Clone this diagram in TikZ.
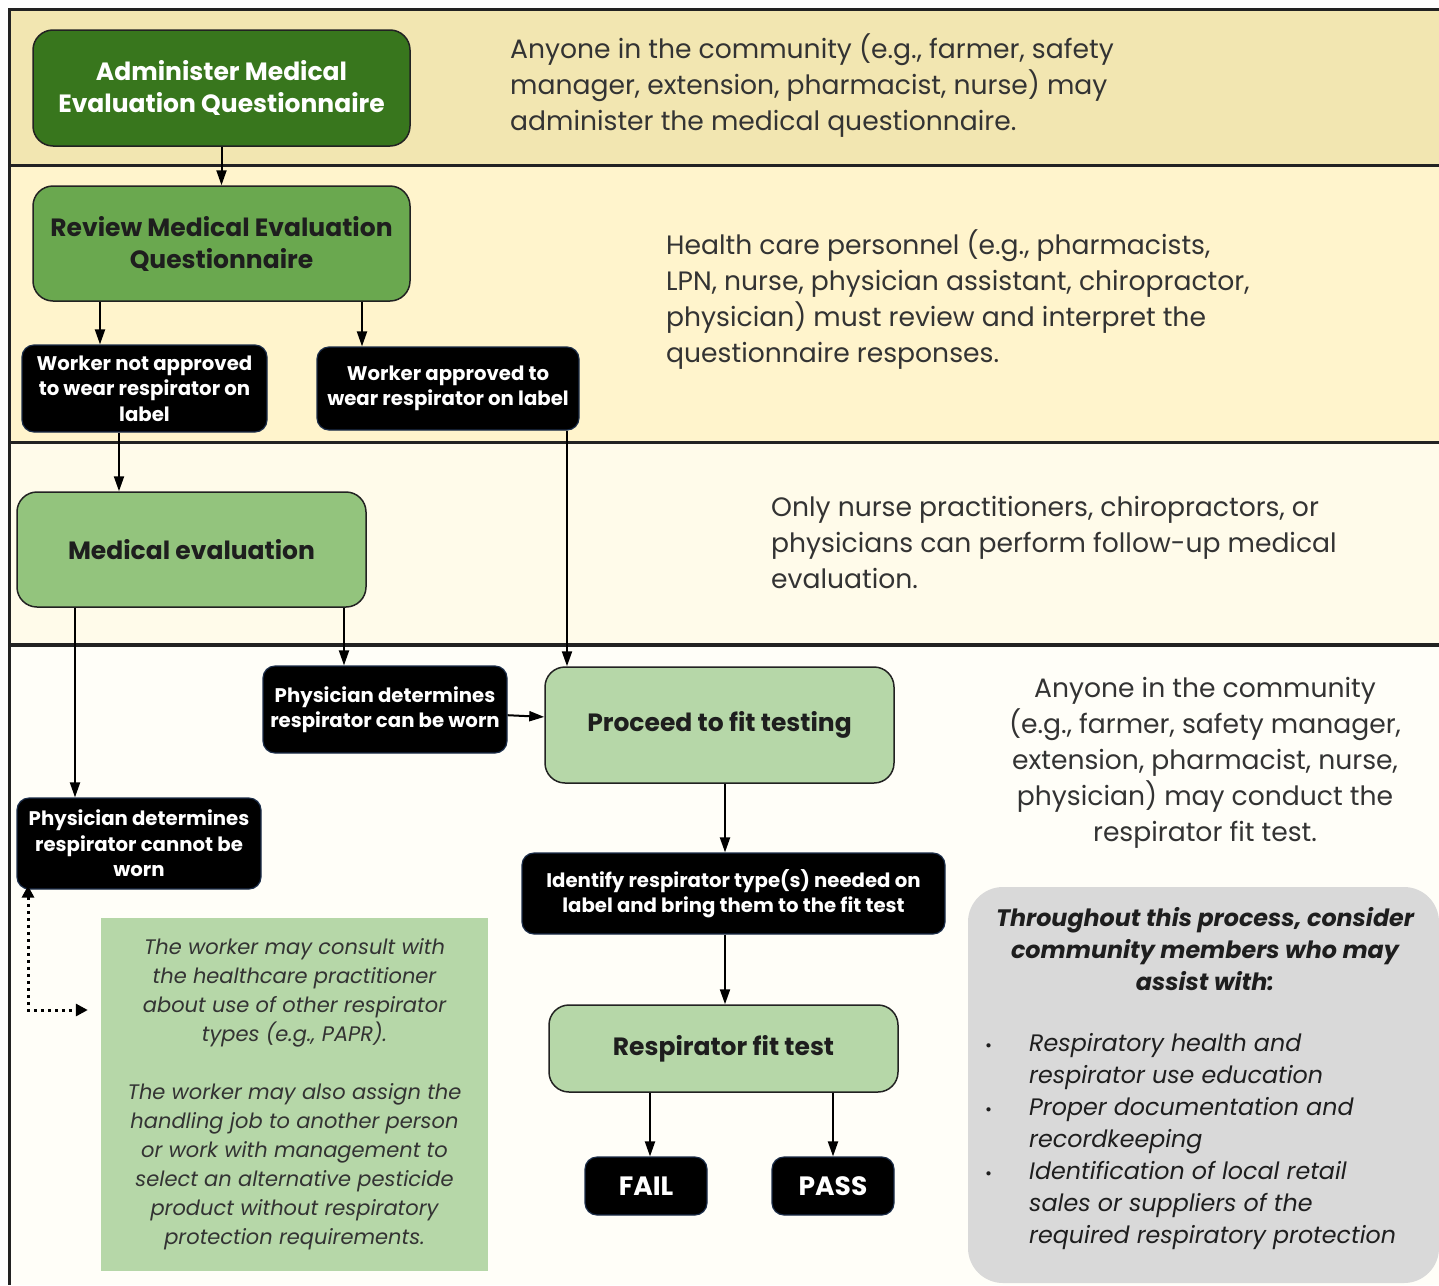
\documentclass[tikz,border=0pt]{standalone}
\usepackage{fontspec}
\setmainfont{Poppins}
\usetikzlibrary{arrows.meta}
\definecolor{bandA}{HTML}{F2E6B1}
\definecolor{bandB}{HTML}{FFF4CC}
\definecolor{bandC}{HTML}{FFFBEA}
\definecolor{bandD}{HTML}{FFFEF8}
\definecolor{greenA}{HTML}{38761D}
\definecolor{greenB}{HTML}{6AA84F}
\definecolor{greenC}{HTML}{93C47D}
\definecolor{greenD}{HTML}{B6D7A8}
\definecolor{greybox}{HTML}{D9D9D9}
\definecolor{boxline}{HTML}{222222}
\definecolor{navyline}{HTML}{1C2E4A}
\definecolor{textdark}{HTML}{1E1E1E}
\definecolor{textgrey}{HTML}{333333}
\begin{document}
\begin{tikzpicture}[x=1pt,y=-1pt,
    greenbox/.style={draw=boxline,line width=1.5pt,rounded corners=20pt,align=center,
      text=textdark,font=\bfseries\fontsize{25}{32}\selectfont},
    blackbox/.style={fill=black,draw=navyline,line width=1.2pt,rounded corners=12pt,
      align=center,text=white,font=\bfseries\fontsize{19.7}{25.5}\selectfont},
    lanetext/.style={inner sep=0pt,text=textgrey,font=\fontsize{26.6}{36}\selectfont},
    arr/.style={line width=2pt,-{Triangle[length=15pt,width=10pt]}},
    dotarr/.style={line width=3pt,dash pattern=on 3pt off 4pt,
      {Triangle[length=12pt,width=12pt]}-{Triangle[length=12pt,width=12pt]}},
    sepline/.style={draw=boxline,line width=3pt}]
    \useasboundingbox (0,0) rectangle (1439,1285);
    % lanes
    \fill[bandA] (9,9) rectangle (1439,165);
    \fill[bandB] (9,165) rectangle (1439,442);
    \fill[bandC] (9,442) rectangle (1439,645);
    \fill[bandD] (9,645) rectangle (1439,1285);
    \draw[sepline] (1439,9) -- (9,9) -- (9,1285);
    \draw[sepline] (9,165) -- (1439,165);
    \draw[sepline] (9,442) -- (1439,442);
    \draw[sepline,line width=4.5pt] (9,645) -- (1439,645);
    \node[lanetext,anchor=west,align=left] (laneA) at (510,86)
        {Anyone in the community (e.g., farmer, safety\\manager, extension, pharmacist, nurse) may\\administer the medical questionnaire.};
    \node[lanetext,anchor=west,align=left] (laneB) at (666,300)
        {Health care personnel (e.g., pharmacists,\\LPN, nurse, physician assistant, chiropractor,\\physician) must review and interpret the\\questionnaire responses.};
    \node[lanetext,anchor=west,align=left] (laneC) at (771,542.5)
        {Only nurse practitioners, chiropractors, or\\physicians can perform follow-up medical\\evaluation.};
    \node[lanetext,align=center] (laneD) at (1205,762.5)
        {Anyone in the community\\(e.g., farmer, safety manager,\\extension, pharmacist, nurse,\\physician) may conduct the\\respirator fit test.};
    % steps
    \node[greenbox,fill=greenA,text=white,minimum width=377,minimum height=116] (admin) at (221.5,88)
        {Administer Medical\\Evaluation Questionnaire};
    \node[greenbox,fill=greenB,minimum width=377,minimum height=115] (review) at (221.5,243.5)
        {Review Medical Evaluation\\Questionnaire};
    \node[blackbox,minimum width=245,minimum height=87] (notok) at (144.5,388.5)
        {Worker not approved\\to wear respirator on\\label};
    \node[blackbox,minimum width=262,minimum height=83] (ok) at (448,388.5)
        {Worker approved to\\wear respirator on label};
    \node[greenbox,fill=greenC,minimum width=349,minimum height=115] (medeval) at (191.5,549.5)
        {Medical evaluation};
    \node[blackbox,minimum width=244,minimum height=87] (canwear) at (385,709.5)
        {Physician determines\\respirator can be worn};
    \node[greenbox,fill=greenD,minimum width=349,minimum height=116] (proceed) at (719.5,725)
        {Proceed to fit testing};
    \node[blackbox,minimum width=244,minimum height=91] (cannot) at (139,843.5)
        {Physician determines\\respirator cannot be\\worn};
    \node[blackbox,minimum width=423,minimum height=81] (identify) at (733.5,893.5)
        {Identify respirator type(s) needed on\\label and bring them to the fit test};
    \node[greenbox,fill=greenD,minimum width=349,minimum height=87] (fittest) at (723.5,1048.5)
        {Respirator fit test};
    \node[blackbox,font=\bfseries\fontsize{26.5}{30}\selectfont,minimum width=122,minimum height=58] (fail) at (646,1186) {FAIL};
    \node[blackbox,font=\bfseries\fontsize{26.5}{30}\selectfont,minimum width=122,minimum height=58] (pass) at (833,1186) {PASS};
    % side notes
    \node[fill=greenD,minimum width=387,minimum height=353,align=center,text=textgrey,
        font=\itshape\fontsize{21}{29}\selectfont] (note) at (294.5,1094.5)
        {The worker may consult with\\the healthcare practitioner\\about use of other respirator\\types (e.g., PAPR).\\[29pt]
         The worker may also assign the\\handling job to another person\\or work with management to\\select an alternative pesticide\\product without respiratory\\protection requirements.};
    \node[fill=greybox,rounded corners=35pt,minimum width=471,minimum height=396] (support) at (1203.5,1085) {};
    \node[align=center,text=textdark,font=\bfseries\itshape\fontsize{23.8}{32}\selectfont] (supporthead) at (1205,949)
        {Throughout this process, consider\\community members who may\\assist with:};
    \node[anchor=west,inner sep=0pt,text=textdark,font=\itshape\fontsize{23.8}{32}\selectfont] (supportlist) at (985,1141)
        {\begin{tabular}{@{}p{44pt}@{}l@{}}
         {\fontsize{17}{32}\selectfont\upshape •} & Respiratory health and\\
          & respirator use education\\
         {\fontsize{17}{32}\selectfont\upshape •} & Proper documentation and\\
          & recordkeeping\\
         {\fontsize{17}{32}\selectfont\upshape •} & Identification of local retail\\
          & sales or suppliers of the\\
          & required respiratory protection
         \end{tabular}};
    % connectors
    \draw[arr] (admin) -- (review);
    \draw[arr] (review.south -| 100,0) -- (notok.north -| 100,0);
    \draw[arr] (review.south -| 362,0) -- (ok.north -| 362,0);
    \draw[arr] (notok.south -| 119,0) -- (medeval.north -| 119,0);
    \draw[arr] (ok.south -| 567,0) -- (proceed.north -| 567,0);
    \draw[arr] (medeval.south -| 75,0) -- (cannot.north -| 75,0);
    \draw[arr] (medeval.south -| 344,0) -- (canwear.north -| 344,0);
    \draw[arr] (canwear) -- (proceed);
    \draw[arr] (proceed.south -| 725,0) -- (identify.north -| 725,0);
    \draw[arr] (identify.south -| 725,0) -- (fittest.north -| 725,0);
    \draw[arr] (fittest.south -| 650,0) -- (fail.north -| 650,0);
    \draw[arr] (fittest.south -| 833,0) -- (pass.north -| 833,0);
    \draw[dotarr] ([yshift=4]cannot.south -| 28,0) |- ([xshift=-13]note.west |- 0,1010);
\end{tikzpicture}
\end{document}
